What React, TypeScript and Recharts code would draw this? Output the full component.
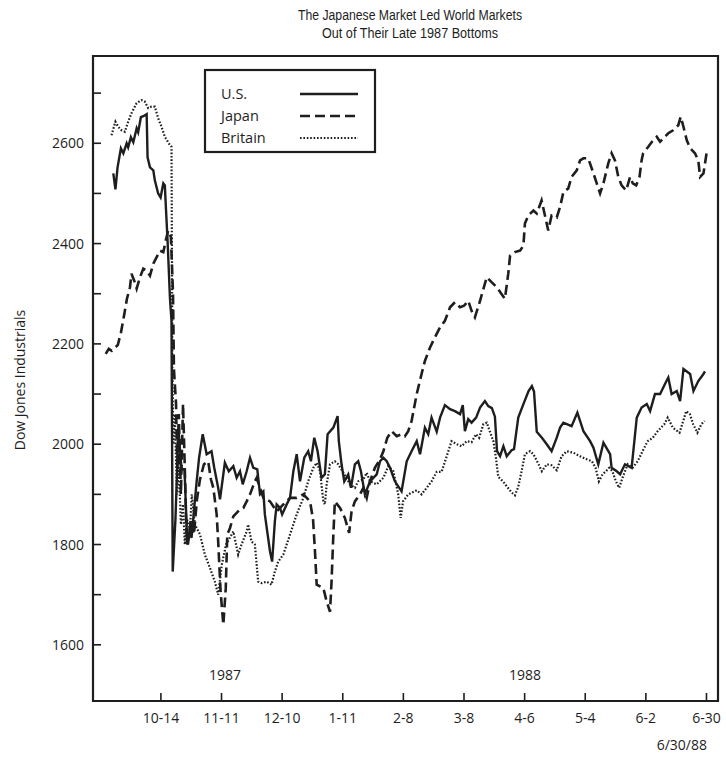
import React from 'react';
import { LineChart, Line, XAxis, YAxis, ReferenceArea } from 'recharts';

// x = trading-day index (0 = 10-14-1987, one labelled tick every 20 trading days)
const tickDays = [0, 20, 40, 60, 80, 100, 120, 140, 160, 180];
const tickLabels = ['10-14', '11-11', '12-10', '1-11', '2-8', '3-8', '4-6', '5-4', '6-2', '6-30'];
const yTicks = [1600, 1700, 1800, 1900, 2000, 2100, 2200, 2300, 2400, 2500, 2600, 2700];
const yLabelled = [1600, 1800, 2000, 2200, 2400, 2600];
const seriesNames = ['U.S.', 'Japan', 'Britain'];

const usSeries: [number, number][] = [
  [-15.7, 2540], [-15.0, 2508], [-14.3, 2552], [-13.2, 2590], [-12.4, 2580], [-11.3, 2600], [-10.8, 2592],
  [-9.9, 2612], [-9.1, 2602], [-8.0, 2630], [-7.5, 2622], [-6.6, 2652], [-5.8, 2654], [-4.7, 2658],
  [-4.4, 2572], [-3.6, 2552], [-2.5, 2546], [-2.0, 2526], [-0.9, 2500], [-0.1, 2492], [0.8, 2520],
  [1.3, 2516], [1.7, 2466], [2.2, 2406], [3.0, 2290], [3.5, 2246], [3.9, 1746], [4.8, 1850], [5.8, 2030],
  [6.8, 1950], [7.8, 1950], [8.7, 1800], [9.6, 1833], [10.1, 1813], [11.0, 1873], [11.8, 1926], [12.6, 1973],
  [13.8, 2020], [15.1, 1980], [16.7, 1986], [17.6, 1953], [18.9, 1913], [19.5, 1890], [21.1, 1963],
  [22.4, 1946], [23.9, 1956], [25.0, 1933], [26.1, 1946], [27.0, 1920], [28.3, 1946], [29.4, 1973],
  [30.5, 1953], [31.8, 1950], [32.7, 1900], [33.8, 1906], [34.3, 1860], [36.0, 1786], [36.7, 1766],
  [37.6, 1846], [38.2, 1880], [39.3, 1873], [40.0, 1860], [41.5, 1880], [42.6, 1893], [43.7, 1946],
  [44.8, 1980], [45.9, 1926], [47.3, 1973], [48.6, 1986], [49.5, 1966], [50.6, 2013], [51.7, 1986],
  [53.0, 1933], [54.1, 1940], [55.0, 2020], [56.9, 2033], [58.3, 2056], [58.7, 2006], [59.6, 1960],
  [60.5, 1926], [61.8, 1940], [62.7, 1913], [64.0, 1960], [65.1, 1966], [66.0, 1946], [67.3, 1900],
  [69.0, 1926], [70.1, 1933], [71.2, 1940], [72.3, 1966], [73.4, 1973], [74.5, 1966], [75.6, 1953],
  [77.2, 1926], [79.4, 1906], [81.1, 1966], [82.7, 1986], [84.4, 2006], [85.5, 1980], [87.1, 2033],
  [88.2, 2020], [89.3, 2053], [91.0, 2025], [92.1, 2053], [93.7, 2078], [95.4, 2070], [97.0, 2066],
  [98.7, 2060], [99.6, 2078], [100.3, 2026], [101.4, 2050], [102.5, 2043], [104.0, 2053], [105.3, 2073],
  [106.9, 2086], [108.0, 2076], [109.2, 2072], [110.2, 2055], [110.9, 1986], [111.9, 1976], [113.0, 1996],
  [114.1, 1976], [115.7, 1988], [116.5, 1990], [117.9, 2053], [119.6, 2080], [121.3, 2106], [122.4, 2116],
  [123.1, 2105], [124.0, 2025], [125.7, 2013], [127.3, 2000], [128.9, 1986], [130.6, 2013], [131.7, 2033],
  [132.8, 2043], [135.5, 2036], [137.4, 2063], [139.4, 2026], [141.6, 2006], [142.7, 1993], [144.3, 1960],
  [146.0, 2003], [148.2, 1980], [148.7, 1953], [150.4, 1946], [151.5, 1940], [153.1, 1960], [155.3, 1953],
  [157.0, 2053], [158.6, 2073], [160.3, 2080], [161.4, 2066], [163.0, 2100], [164.7, 2100], [166.3, 2120],
  [167.4, 2133], [168.5, 2100], [170.2, 2106], [171.3, 2086], [172.4, 2150], [174.6, 2140], [175.7, 2106],
  [177.3, 2126], [179.0, 2140], [179.5, 2145],
];

const japanSeries: [number, number][] = [
  [-18.2, 2180], [-17.2, 2190], [-16.2, 2186], [-15.2, 2192], [-14.2, 2198], [-13.2, 2222], [-12.2, 2255],
  [-11.2, 2290], [-10.2, 2313], [-9.7, 2340], [-8.8, 2326], [-8.0, 2310], [-6.9, 2333], [-5.8, 2350],
  [-4.7, 2346], [-3.6, 2336], [-2.5, 2360], [-1.4, 2373], [-0.3, 2386], [0.8, 2383], [1.6, 2406],
  [2.4, 2426], [3.3, 2413], [4.0, 2300], [4.3, 2150], [5.0, 2080], [5.4, 1950], [5.9, 2060], [6.6, 1900],
  [7.3, 2080], [7.9, 1950], [8.4, 1830], [8.9, 1800], [9.9, 1850], [10.9, 1820], [11.9, 1890], [12.9, 1930],
  [14.2, 1960], [15.6, 1966], [16.5, 1930], [17.3, 1913], [18.4, 1860], [18.9, 1806], [19.7, 1706],
  [20.6, 1640], [21.4, 1713], [21.9, 1820], [22.8, 1833], [23.9, 1856], [25.0, 1863], [26.1, 1870],
  [27.2, 1873], [28.3, 1886], [29.4, 1900], [31.0, 1926], [31.6, 1933], [33.8, 1893], [36.0, 1886],
  [38.2, 1866], [40.4, 1880], [42.6, 1893], [44.8, 1893], [47.0, 1900], [49.2, 1886], [50.2, 1850],
  [50.8, 1790], [51.4, 1720], [53.6, 1713], [54.7, 1686], [55.8, 1666], [56.3, 1726], [56.9, 1820],
  [57.4, 1886], [59.1, 1873], [60.7, 1853], [62.1, 1823], [62.9, 1866], [64.0, 1886], [65.7, 1900],
  [66.8, 1913], [67.9, 1893], [69.0, 1926], [70.6, 1953], [72.3, 1970], [73.4, 1986], [74.7, 2013],
  [76.1, 2026], [77.8, 2016], [79.4, 2020], [80.5, 2016], [81.6, 2026], [82.7, 2046], [84.4, 2100],
  [86.0, 2140], [87.1, 2166], [88.8, 2193], [90.4, 2213], [92.1, 2233], [93.7, 2246], [95.4, 2273],
  [97.0, 2283], [98.7, 2273], [100.0, 2276], [101.4, 2286], [102.5, 2266], [103.6, 2253], [105.3, 2286],
  [107.5, 2333], [109.1, 2323], [110.8, 2313], [113.5, 2290], [114.6, 2340], [115.2, 2376], [116.8, 2383],
  [118.5, 2386], [119.6, 2396], [120.1, 2440], [121.2, 2456], [122.9, 2466], [124.0, 2460], [125.6, 2486],
  [126.7, 2456], [127.8, 2426], [128.9, 2456], [130.6, 2452], [131.7, 2473], [132.8, 2503], [134.4, 2510],
  [135.5, 2533], [137.2, 2546], [138.3, 2566], [139.4, 2570], [141.0, 2570], [142.7, 2540], [143.8, 2520],
  [144.9, 2500], [146.0, 2520], [147.6, 2560], [148.7, 2580], [149.8, 2566], [150.9, 2533], [152.0, 2516],
  [153.5, 2506], [154.8, 2533], [155.7, 2520], [156.8, 2516], [157.9, 2533], [158.6, 2566], [159.1, 2580],
  [160.8, 2593], [162.4, 2606], [163.6, 2613], [164.7, 2603], [165.8, 2610], [167.4, 2620], [169.0, 2626],
  [170.7, 2636], [171.5, 2653], [172.4, 2633], [173.5, 2606], [174.6, 2590], [176.2, 2580], [177.3, 2566],
  [177.9, 2533], [179.0, 2540], [180.1, 2583],
];

const britainSeries: [number, number][] = [
  [-16.3, 2616], [-15.0, 2643], [-14.1, 2633], [-13.0, 2626], [-11.9, 2623], [-10.8, 2643], [-9.7, 2660],
  [-8.0, 2680], [-6.4, 2686], [-5.3, 2683], [-4.2, 2670], [-3.1, 2673], [-2.0, 2673], [-0.9, 2650],
  [0.2, 2633], [1.3, 2613], [3.0, 2596], [3.5, 2593], [3.8, 2150], [4.1, 2000], [4.6, 2060], [5.3, 1900],
  [5.9, 1960], [6.6, 1840], [7.3, 1880], [7.9, 1800], [8.6, 1850], [9.6, 1830], [10.2, 1900], [11.2, 1840],
  [12.9, 1820], [14.5, 1780], [16.2, 1753], [17.8, 1726], [18.9, 1700], [20.1, 1760], [21.5, 1800],
  [23.9, 1826], [25.5, 1780], [26.6, 1800], [28.3, 1826], [28.8, 1840], [29.9, 1806], [31.0, 1800],
  [32.1, 1726], [33.2, 1723], [34.9, 1726], [36.5, 1720], [37.6, 1746], [38.7, 1766], [40.4, 1780],
  [42.6, 1820], [44.8, 1860], [47.0, 1893], [48.6, 1926], [50.3, 1953], [51.4, 1963], [52.5, 1946],
  [53.6, 1886], [54.1, 1880], [54.7, 1920], [55.8, 1960], [57.4, 1966], [58.5, 1960], [60.2, 1943],
  [62.4, 1920], [64.0, 1913], [65.1, 1926], [66.8, 1930], [67.9, 1943], [69.0, 1926], [71.2, 1920],
  [73.4, 1933], [75.0, 1956], [76.7, 1946], [78.3, 1900], [79.1, 1853], [79.9, 1886], [81.6, 1900],
  [84.4, 1908], [86.0, 1900], [87.7, 1913], [89.3, 1926], [91.0, 1945], [92.6, 1945], [94.3, 1976],
  [95.9, 2006], [97.6, 2000], [99.2, 1996], [100.9, 2006], [102.5, 2004], [104.0, 2020], [105.0, 2013],
  [106.4, 2040], [107.5, 2043], [108.6, 2024], [109.7, 2006], [110.6, 1970], [111.3, 1935], [113.0, 1925],
  [114.1, 1916], [115.7, 1904], [116.8, 1898], [117.9, 1915], [119.0, 1946], [120.1, 1980], [121.8, 1986],
  [122.9, 1980], [124.6, 1960], [125.7, 1946], [127.3, 1960], [128.9, 1958], [130.6, 1948], [132.2, 1976],
  [133.9, 1986], [136.1, 1983], [138.3, 1976], [140.5, 1970], [142.2, 1966], [143.4, 1953], [144.5, 1926],
  [145.7, 1940], [146.8, 1946], [147.9, 1953], [149.0, 1946], [150.1, 1926], [151.2, 1913], [152.3, 1933],
  [154.0, 1960], [155.6, 1953], [157.3, 1966], [158.9, 1986], [160.6, 2006], [162.3, 2013], [163.9, 2026],
  [166.1, 2040], [167.2, 2053], [168.9, 2033], [171.1, 2023], [172.3, 2046], [173.3, 2066], [174.5, 2060],
  [175.6, 2040], [177.0, 2023], [178.3, 2040], [179.4, 2046],
];

const toRows = (s: [number, number][]) => s.map(([d, v]) => ({ d, v }));

const INK = '#1e1e1e';
const FONT = "'Open Sans', 'DejaVu Sans', sans-serif";
const X_DOMAIN: [number, number] = [-22.4, 183.8];
const Y_DOMAIN: [number, number] = [1488, 2774];

const XTick = (props: any) => {
  const { x, y, payload } = props;
  const i = tickDays.indexOf(payload.value);
  return (
    <g>
      <line x1={x} x2={x} y1={y} y2={y - 8} stroke={INK} strokeWidth={1.6} />
      <text x={x} y={y + 22} textAnchor="middle" fontFamily={FONT} fontSize={14} fill={INK}>
        {i >= 0 ? tickLabels[i] : ''}
      </text>
    </g>
  );
};

const YTick = (props: any) => {
  const { x, y, payload } = props;
  const show = yLabelled.includes(payload.value);
  return (
    <g>
      <line x1={x} x2={x + 8} y1={y} y2={y} stroke={INK} strokeWidth={1.6} />
      {show && (
        <text x={x - 9} y={y + 5} textAnchor="end" fontFamily={FONT} fontSize={14} fill={INK}>
          {payload.value}
        </text>
      )}
    </g>
  );
};

const PAGE_W = 726;
const PAGE_H = 757;
const W = 718;
const H = 749;

export default function App() {
  return (
    <div style={{ position: 'relative', width: PAGE_W, height: PAGE_H, background: '#fff', overflow: 'hidden' }}>
      <style>{'html { overflow: hidden; } body { margin: 0; } .recharts-wrapper svg { display: block; }'}</style>
      <div style={{ position: 'absolute', left: 8, top: 8, width: W, height: H }}>
        <LineChart width={W} height={H} margin={{ top: 48, right: 8, left: 0, bottom: 0 }}>
          <XAxis
            type="number"
            dataKey="d"
            domain={X_DOMAIN}
            ticks={tickDays}
            interval={0}
            allowDataOverflow
            height={56}
            tickSize={0}
            tickMargin={0}
            axisLine={false}
            tickLine={false}
            tick={<XTick />}
          />
          <YAxis
            type="number"
            domain={Y_DOMAIN}
            ticks={yTicks}
            interval={0}
            allowDataOverflow
            width={85}
            tickSize={0}
            tickMargin={0}
            axisLine={false}
            tickLine={false}
            tick={<YTick />}
          />
          <ReferenceArea
            x1={X_DOMAIN[0]}
            x2={X_DOMAIN[1]}
            y1={Y_DOMAIN[0]}
            y2={Y_DOMAIN[1]}
            fill="none"
            fillOpacity={0}
            stroke={INK}
            strokeWidth={2.2}
            ifOverflow="extendDomain"
          />
          <Line
            data={toRows(britainSeries)}
            dataKey="v"
            name={seriesNames[2]}
            stroke={INK}
            strokeWidth={2.2}
            strokeDasharray="1.6 1.8"
            dot={false}
            type="linear"
            isAnimationActive={false}
          />
          <Line
            data={toRows(japanSeries)}
            dataKey="v"
            name={seriesNames[1]}
            stroke={INK}
            strokeWidth={2.6}
            strokeDasharray="10 5"
            dot={false}
            type="linear"
            isAnimationActive={false}
          />
          <Line
            data={toRows(usSeries)}
            dataKey="v"
            name={seriesNames[0]}
            stroke={INK}
            strokeWidth={2.4}
            dot={false}
            type="linear"
            isAnimationActive={false}
          />
        </LineChart>
        <svg
          width={W}
          height={H}
          style={{ position: 'absolute', left: 0, top: 0, pointerEvents: 'none', display: 'block', overflow: 'visible' }}
        >
          <text x={402} y={12} textAnchor="middle" fontFamily="'Liberation Sans', Arial, sans-serif" fontSize={14}
            fill={INK} textLength={224} lengthAdjust="spacingAndGlyphs">
            The Japanese Market Led World Markets
          </text>
          <text x={402} y={30} textAnchor="middle" fontFamily="'Liberation Sans', Arial, sans-serif" fontSize={14}
            fill={INK} textLength={176} lengthAdjust="spacingAndGlyphs">
            Out of Their Late 1987 Bottoms
          </text>
          <text x={17} y={372} transform="rotate(-90 17 372)" textAnchor="middle" fontFamily={FONT} fontSize={14} fill={INK}>
            Dow Jones Industrials
          </text>
          <g>
            <rect x={197} y={62} width={170} height={82} fill="#fff" stroke={INK} strokeWidth={2.2} />
            <text x={213} y={91} fontFamily={FONT} fontSize={14.5} fill={INK}>{seriesNames[0]}</text>
            <text x={213} y={113} fontFamily={FONT} fontSize={14.5} fill={INK}>{seriesNames[1]}</text>
            <text x={213} y={135} fontFamily={FONT} fontSize={14.5} fill={INK}>{seriesNames[2]}</text>
            <line x1={292} x2={350} y1={86} y2={86} stroke={INK} strokeWidth={2.4} />
            <line x1={292} x2={350} y1={108} y2={108} stroke={INK} strokeWidth={2.6} strokeDasharray="10 5" />
            <line x1={292} x2={350} y1={130} y2={130} stroke={INK} strokeWidth={2.2} strokeDasharray="1.6 1.8" />
          </g>
          <text x={217} y={672} textAnchor="middle" fontFamily={FONT} fontSize={14} fill={INK}>1987</text>
          <text x={517} y={672} textAnchor="middle" fontFamily={FONT} fontSize={14} fill={INK}>1988</text>
          <text x={699} y={742} textAnchor="end" fontFamily={FONT} fontSize={14} fill={INK}>6/30/88</text>
        </svg>
      </div>
    </div>
  );
}
